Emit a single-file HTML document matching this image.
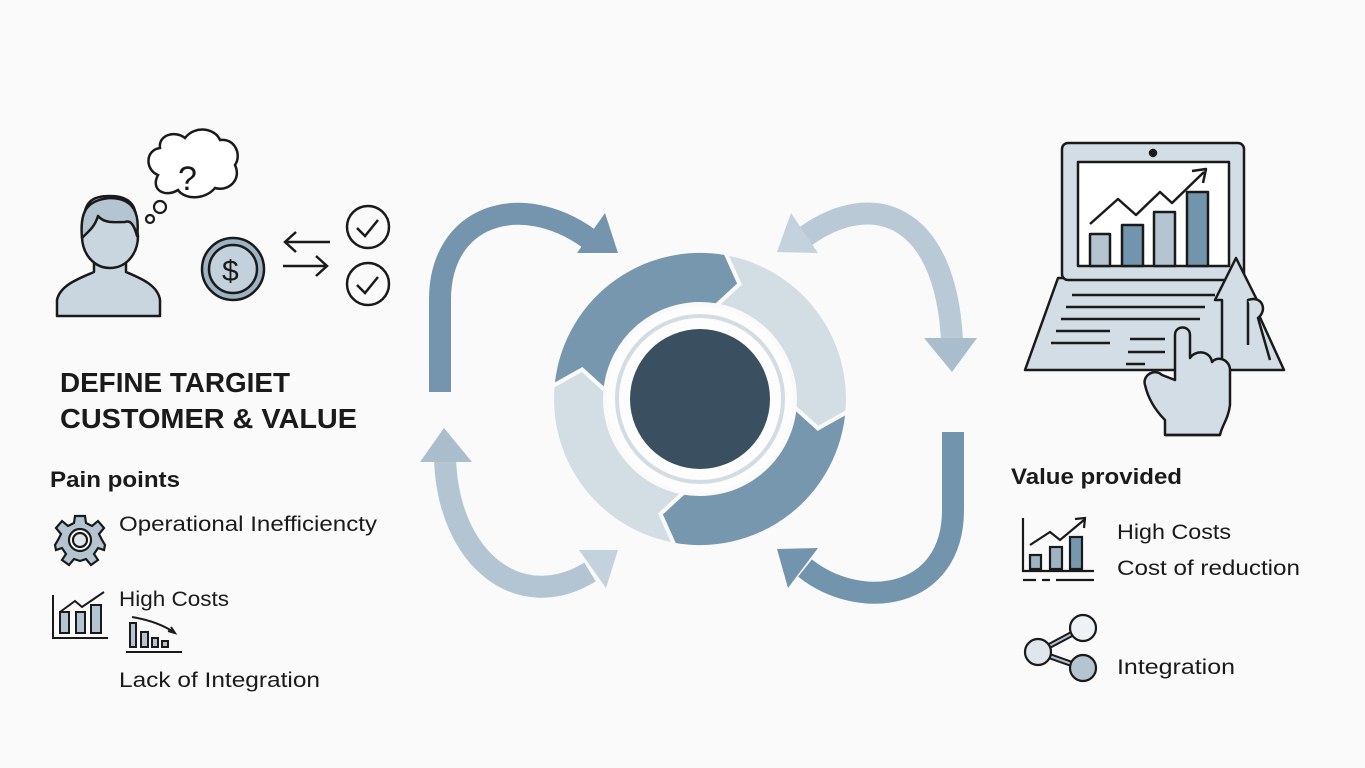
<!DOCTYPE html>
<html><head><meta charset="utf-8"><style>
html,body{margin:0;padding:0;background:#fafafa;}
svg{display:block}
text{font-family:"Liberation Sans",sans-serif;fill:#1a1a1a}
</style></head><body>
<svg width="1365" height="768" viewBox="0 0 1365 768">
<rect width="1365" height="768" fill="#fafafa"/>

<!-- ring -->
<g stroke="#fafafa" stroke-width="4" stroke-linejoin="miter">
<path d="M552.6,386.1 A148,148 0 0 1 725.7,253.2 L739.6,284.1 L716.5,305.4 A95,95 0 0 0 605.4,390.7 L582.1,369.6 Z" fill="#7697ae"/>
<path d="M725.7,253.2 A148,148 0 0 1 847.4,411.9 L817.9,428.4 L794.6,407.3 A95,95 0 0 0 716.5,305.4 L739.6,284.1 Z" fill="#d2dde4"/>
<path d="M847.4,411.9 A148,148 0 0 1 674.3,544.8 L660.4,513.9 L683.5,492.6 A95,95 0 0 0 794.6,407.3 L817.9,428.4 Z" fill="#7697ae"/>
<path d="M674.3,544.8 A148,148 0 0 1 552.6,386.1 L582.1,369.6 L605.4,390.7 A95,95 0 0 0 683.5,492.6 L660.4,513.9 Z" fill="#d2dde4"/>
</g>
<circle cx="700" cy="399" r="93" fill="#fdfdfd"/>
<circle cx="700" cy="399" r="83" fill="none" stroke="#d3dce2" stroke-width="4"/>
<circle cx="700" cy="399" r="70" fill="#3a4f5f"/>

<!-- curved arrows -->
<g fill="none" stroke-width="22">
<path d="M440,392 L440,300 C440,215 520,190 588,238" stroke="#7495ad"/>
<path d="M806,236 C870,190 945,210 952,340" stroke="#b9cad6"/>
<path d="M445,458 C448,560 520,615 590,572" stroke="#b3c5d2"/>
<path d="M953,432 L953,510 C953,600 860,612 805,568" stroke="#7394ad"/>
</g>
<polygon points="577,253 605,213 618,253" fill="#7495ad"/>
<polygon points="777,252 791,213 818,253" fill="#c3d2dc"/>
<polygon points="924,338 977,338 952,372" fill="#a9bdcc"/>
<polygon points="420,462 444,428 472,462" fill="#a9bdcc"/>
<polygon points="579,550 618,550 606,588" fill="#c3d2dc"/>
<polygon points="777,549 818,548 788,588" fill="#7394ad"/>

<!-- person -->
<g stroke="#1a1a1a" stroke-width="2.5" fill="#c9d6df" stroke-linejoin="round">
<path d="M57,316 L57,300 C60,285 80,278 94,272 L94,262 L126,262 L126,272 C140,278 158,285 160,300 L160,316 Z"/>
<path d="M84,220 C84,200 95,196 110,196 C128,196 137,204 136,222 L138,236 C138,254 126,268 110,268 C94,268 82,254 82,236 Z"/>
<path d="M82,238 C80,215 84,200 110,198 C134,198 140,214 137,236 C134,224 130,220 125,222 C115,222 105,224 98,216 C95,226 90,230 84,236 Z" fill="#b4c5d1"/>
</g>
<!-- cloud -->
<path d="M158,175 C145,170 145,150 160,148 C158,135 175,130 185,138 C195,125 215,128 220,140 C235,138 242,155 235,165 C242,180 228,192 215,188 C205,200 185,200 178,190 C165,198 150,190 158,175 Z" fill="#fff" stroke="#1a1a1a" stroke-width="2.5"/>
<text x="178" y="190" font-size="34" style="font-family:'Liberation Sans',sans-serif">?</text>
<circle cx="160" cy="207" r="6" fill="#fff" stroke="#1a1a1a" stroke-width="2.2"/>
<circle cx="150" cy="219" r="4" fill="#fff" stroke="#1a1a1a" stroke-width="2.2"/>
<!-- coin -->
<circle cx="233" cy="269" r="31" fill="#9eb3c3" stroke="#1a1a1a" stroke-width="2.5"/>
<circle cx="233" cy="269" r="24" fill="#c3d1dc" stroke="#1a1a1a" stroke-width="2.5"/>
<text x="222" y="281" font-size="30" fill="#1a1a1a">$</text>
<!-- exchange arrows -->
<g stroke="#1a1a1a" stroke-width="2.5" fill="none">
<path d="M330,242 H286 M296,232 L285,242 L296,252"/>
<path d="M283,266 H326 M316,256 L327,266 L316,276"/>
<circle cx="368" cy="227" r="21"/><path d="M357,228 L365,236 L378,220"/>
<circle cx="368" cy="284" r="21"/><path d="M357,285 L365,293 L378,277"/>
</g>

<!-- titles -->
<text x="60" y="392" font-size="28" font-weight="bold" textLength="230" lengthAdjust="spacingAndGlyphs">DEFINE TARGIET</text>
<text x="60" y="428" font-size="28" font-weight="bold" textLength="297" lengthAdjust="spacingAndGlyphs">CUSTOMER &amp; VALUE</text>
<text x="50" y="487" font-size="22" font-weight="bold" textLength="130" lengthAdjust="spacingAndGlyphs">Pain points</text>
<text x="119" y="531" font-size="21" textLength="258" lengthAdjust="spacingAndGlyphs">Operational Inefficiencty</text>
<text x="119" y="606" font-size="21" textLength="110" lengthAdjust="spacingAndGlyphs">High Costs</text>
<text x="119" y="687" font-size="21" textLength="201" lengthAdjust="spacingAndGlyphs">Lack of Integration</text>

<!-- gear -->
<g transform="translate(80,540)">
<g fill="#b4c5d1" stroke="#1a1a1a" stroke-width="2.2">
<path d="M-5,-24 H5 L6,-17 L12,-14 L18,-19 L24,-12 L19,-6 L22,0 L25,5 L24,10 L18,8 L14,14 L18,20 L11,25 L6,19 L0,21 L-6,19 L-11,25 L-18,20 L-14,14 L-18,8 L-24,10 L-25,5 L-22,0 L-19,-6 L-24,-12 L-18,-19 L-12,-14 L-6,-17 Z"/>
<circle r="11" fill="#fff"/><circle r="7" fill="#dfe6eb"/>
</g></g>
<!-- left chart -->
<g stroke="#1a1a1a" stroke-width="2" fill="#b4c5d1">
<path d="M53,595 V638 H108" fill="none"/>
<path d="M60,612 L75,601 L82,607 L104,592" fill="none"/>
<rect x="60" y="612" width="9" height="21"/><rect x="76" y="612" width="9" height="21"/><rect x="91" y="605" width="10" height="28"/>
<rect x="130" y="623" width="6" height="24"/><rect x="141" y="632" width="7" height="15"/><rect x="152" y="638" width="6" height="9"/><rect x="162" y="641" width="6" height="6"/>
<path d="M126,652 H182" fill="none"/>
<path d="M132,617 C150,620 165,626 175,633 M168,631 L175,633 L171,627" fill="none"/>
</g>

<!-- laptop -->
<g stroke="#1a1a1a" stroke-width="2.5" stroke-linejoin="round">
<path d="M1058,278 L1242,278 L1284,370 L1025,370 Z" fill="#d2dde5"/>
<rect x="1062" y="143" width="182" height="137" rx="6" fill="#d2dde5"/>
<rect x="1078" y="162" width="151" height="104" fill="#fff"/>
<circle cx="1153" cy="153" r="3" fill="#1a1a1a"/>
<rect x="1090" y="234" width="20" height="32" fill="#b4c5d1"/>
<rect x="1122" y="225" width="21" height="41" fill="#7394ad"/>
<rect x="1154" y="212" width="21" height="54" fill="#b4c5d1"/>
<rect x="1187" y="192" width="21" height="74" fill="#7394ad"/>
<path d="M1090,224 L1118,199 L1136,215 L1160,192 L1172,203 L1204,172 M1192,171 L1206,169 L1203,183" fill="none"/>
<path d="M1072,295 H1215 M1066,307 H1205 M1061,319 H1200 M1056,331 H1110 M1051,343 H1110 M1130,339 H1165 M1128,352 H1165 M1126,364 H1145" fill="none"/>
<path d="M1222,360 V300 H1215 L1236,258 L1257,300 H1248 V345" fill="#d2dde5"/>
<path d="M1248,300 C1262,295 1268,310 1258,318 L1270,360" fill="#d2dde5"/>
<path d="M1175,380 V335 C1175,325 1190,325 1190,335 V358 C1195,350 1210,350 1212,362 C1218,355 1230,360 1230,370 V405 C1228,420 1222,425 1220,435 H1165 V420 C1155,410 1148,398 1145,385 C1142,375 1155,368 1162,375 Z" fill="#d2dde5"/>
<path d="M1165,435 H1220" fill="none"/>
</g>

<!-- right -->
<text x="1011" y="484" font-size="22" font-weight="bold" textLength="171" lengthAdjust="spacingAndGlyphs">Value provided</text>
<text x="1117" y="539" font-size="21" textLength="114" lengthAdjust="spacingAndGlyphs">High Costs</text>
<text x="1117" y="575" font-size="21" textLength="183" lengthAdjust="spacingAndGlyphs">Cost of reduction</text>
<text x="1117" y="674" font-size="21" textLength="118" lengthAdjust="spacingAndGlyphs">Integration</text>
<g stroke="#1a1a1a" stroke-width="2.2" fill="#9eb3c3">
<path d="M1023,518 V571 H1094 M1023,580 H1036 M1042,580 H1050 M1056,580 H1094" fill="none"/>
<path d="M1030,545 L1050,532 L1060,540 L1084,520 M1075,519 L1085,518 L1084,528" fill="none"/>
<rect x="1030" y="555" width="11" height="14"/><rect x="1050" y="547" width="12" height="22"/><rect x="1070" y="537" width="12" height="32" fill="#7697ae"/>
<path d="M1038,652 L1083,628 M1038,652 L1083,668" fill="none" stroke-width="6"/>
<path d="M1038,652 L1083,628 M1038,652 L1083,668" fill="none" stroke="#b4c5d1" stroke-width="2"/>
<circle cx="1038" cy="652" r="13" fill="#dfe7ec"/>
<circle cx="1083" cy="628" r="13" fill="#eef2f5"/>
<circle cx="1083" cy="668" r="13" fill="#b4c5d1"/>
</g>
</svg>
</body></html>
